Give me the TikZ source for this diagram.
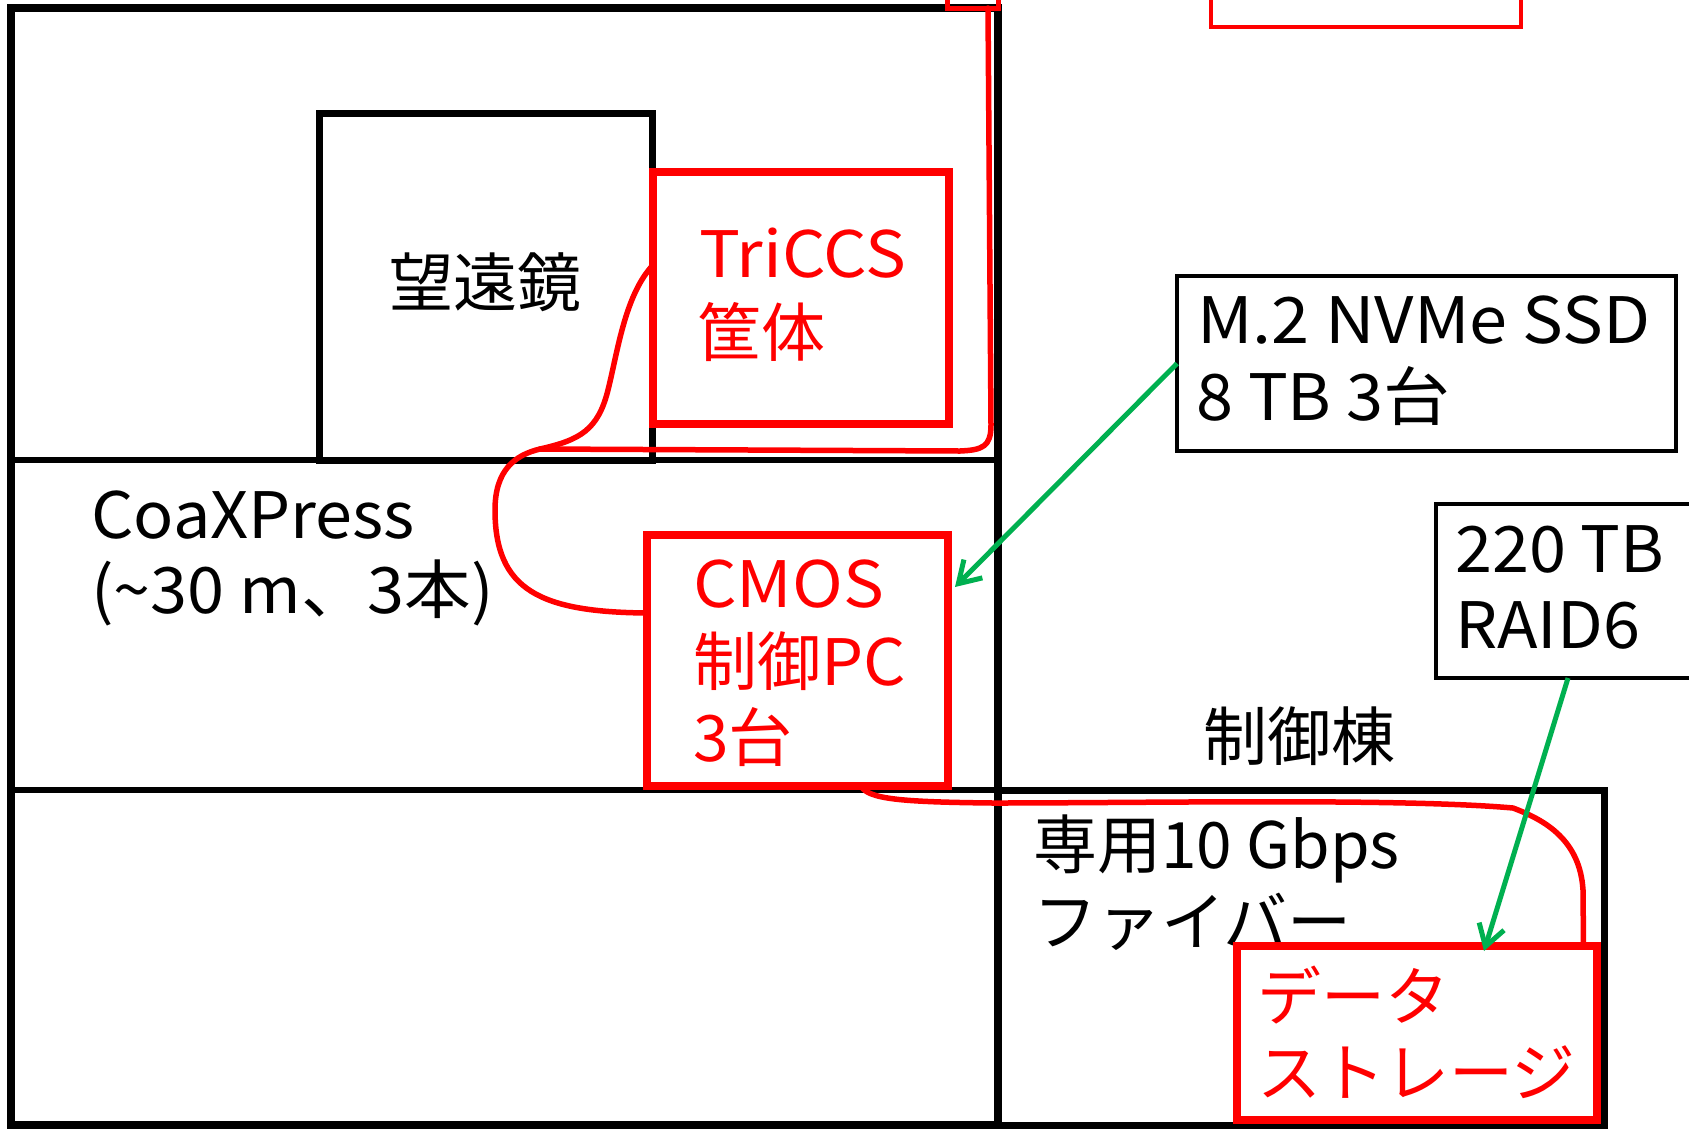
\documentclass[tikz,border=0pt]{standalone}
\usepackage{fontspec}
\setmainfont{Noto Sans CJK JP}
\newfontfamily\stA{Noto Sans CJK JP}[FakeStretch=1.07]
\newfontfamily\stB{Noto Sans CJK JP}[FakeStretch=1.04]
\usetikzlibrary{arrows.meta,calc}
\definecolor{cred}{RGB}{255,0,0}
\definecolor{cgreen}{RGB}{0,176,80}
\begin{document}
\begin{tikzpicture}[x=1pt,y=-1pt,
  blackbox/.style={draw=black, rectangle, inner sep=0pt, outer sep=0pt},
  redbox/.style={draw=cred, line width=7.5pt, rectangle, inner sep=0pt, outer sep=0pt},
  lbl/.style={font=\fontsize{64}{77}\selectfont, inner sep=0pt, anchor=base west},
  cable/.style={draw=cred, line width=5.5pt, line cap=round, line join=round},
  garrow/.style={draw=cgreen, line width=5pt, -{Straight Barb[length=21pt,width=26pt]}},
]
\useasboundingbox (0,0) rectangle (1689,1128);
\fill[white] (0,0) rectangle (1689,1128);

% telescope building with floors
\node[blackbox, line width=8pt, minimum width=986.5pt, minimum height=1117pt] (bldg) at (504.25,566.5) {};
\draw[line width=6pt] (11,460) -- (997.5,460);
\draw[line width=6pt] (11,790) -- (997.5,790);

% telescope
\node[blackbox, line width=7pt, minimum width=333pt, minimum height=346.5pt] (scope) at (486,286.75) {};
\node[lbl, anchor=base] (scopeT) at (485,306) {望遠鏡};

% control building
\node[blackbox, line width=7pt, minimum width=606.5pt, minimum height=335pt] (ctrl) at (1300.75,957.5) {};
\node[lbl, anchor=base] (ctrlT) at (1299,760) {制御棟};

% labels
\node[lbl] (coax1) at (91,538) {\stB CoaXPress};
\node[lbl] (coax2) at (91,613) {\stB (\textasciitilde 30 m、3本)};
\node[lbl] (fib1) at (1033,868) {専用10 Gbps};
\node[lbl] (fib2) at (1033,945) {ファイバー};

% storage notes
\node[blackbox, line width=4pt, minimum width=499pt, minimum height=175pt] (m2) at (1426.5,363.5) {};
\node[lbl] (m2a) at (1197,343) {\stA M.2 NVMe SSD};
\node[lbl] (m2b) at (1196,420) {\stB 8 TB 3台};

\node[blackbox, line width=4pt, minimum width=256pt, minimum height=174pt] (r6) at (1564,591) {};
\node[lbl] (r6a) at (1455,572) {\stB 220 TB};
\node[lbl] (r6b) at (1455,648) {\stB RAID6};

% red boxes
\node[redbox, minimum width=296pt, minimum height=252pt] (tri) at (801,298) {};
\node[lbl, text=cred] (tri1) at (699,277) {\stA TriCCS};
\node[lbl, text=cred] (tri2) at (697,356) {筐体};

\node[redbox, minimum width=301pt, minimum height=251pt] (cmos) at (797.5,660.5) {};
\node[lbl, text=cred] (cm1) at (693,607) {\stA CMOS};
\node[lbl, text=cred] (cm2) at (693,685) {制御{\stB PC}};
\node[lbl, text=cred] (cm3) at (693,761) {3台};

\node[redbox, fill=white, minimum width=360pt, minimum height=174pt] (ds) at (1417,1033) {};
\node[lbl, text=cred] (ds1) at (1257,1020) {データ};
\node[lbl, text=cred] (ds2) at (1257,1096) {ストレージ};

\node[redbox, line width=5pt, minimum width=51pt, minimum height=48pt] (topsq) at (972.5,-16) {};
\node[redbox, line width=4pt, minimum width=310pt, minimum height=67pt] (toprect) at (1366,-6.5) {};

% cables
\coordinate (join) at (540,449);
\draw[cable] ([yshift=33pt]tri.west) .. controls (625,295) and (618,350) .. (608,390)
  .. controls (598,430) and (580,440) .. (join)
  .. controls (515,455) and (495,470) .. (495,510)
  .. controls (495,590) and (540,612) .. ([yshift=47.5pt]cmos.west);
\draw[cable] ([xshift=15.5pt]topsq.south) -- (991,425) .. controls (991,447) and (982,450) .. (960,451) -- (join);
\draw[cable] ([xshift=63.5pt]cmos.south) .. controls (868,799) and (900,802) .. (993,803)
  .. controls (1150,803) and (1400,798) .. (1513,808)
  .. controls (1545,820) and (1580,840) .. (1583,890) -- ([xshift=166.5pt]ds.north);

% green arrows
\draw[garrow] (m2.west) -- ([xshift=7pt,yshift=73.5pt]cmos.east);
\draw[garrow] ([xshift=4pt]r6.south) -- ([xshift=67pt,yshift=-5pt]ds.north);
\end{tikzpicture}
\end{document}
